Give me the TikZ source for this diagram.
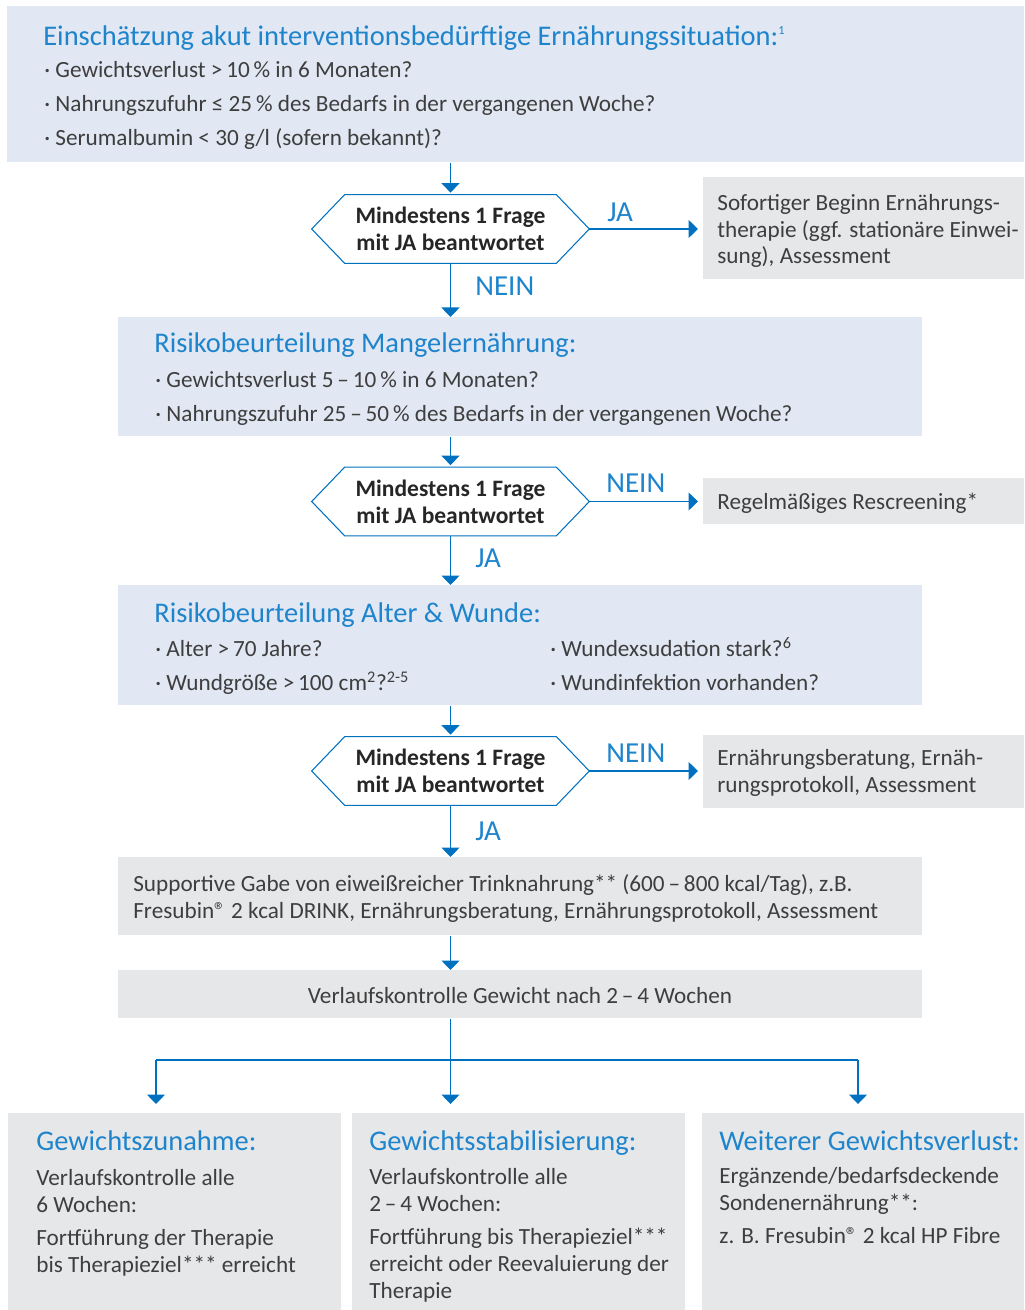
\documentclass[tikz,border=0pt]{standalone}
\usepackage{fontspec}
\setmainfont{Carlito}
\usetikzlibrary{arrows.meta}
\definecolor{titleblue}{RGB}{30,132,204}
\definecolor{lineblue}{RGB}{0,112,192}
\definecolor{boxblue}{RGB}{225,231,243}
\definecolor{boxgray}{RGB}{230,231,233}
\definecolor{textgray}{RGB}{62,62,62}
\newcommand{\hexframe}[1]{\draw [lineblue, line width=0.6pt] (#1.west) -- ([xshift=0.66cm]#1.north west) -- ([xshift=-0.66cm]#1.north east) -- (#1.east) -- ([xshift=-0.66cm]#1.south east) -- ([xshift=0.66cm]#1.south west) -- cycle;}

\begin{document}
\begin{tikzpicture}[x=0.02cm, y=-0.02cm,
    bluebox/.style={fill=boxblue, inner sep=0, anchor=north west},
    graybox/.style={fill=boxgray, inner sep=0, anchor=north west},
    head/.style={anchor=base west, inner sep=0, text=titleblue, font=\fontsize{16.2}{19}\selectfont},
    txt/.style={anchor=base west, inner sep=0, text=textgray, align=left, font=\fontsize{13.2}{15.3}\selectfont},
    ask/.style={minimum width=5.54cm, minimum height=1.36cm, inner sep=0, align=center, text=black!85, font=\bfseries\fontsize{13.4}{15.3}\selectfont},
    yesno/.style={anchor=base west, inner sep=0, text=titleblue, font=\fontsize{16.5}{18}\selectfont},
    arr/.style={lineblue, line width=0.85pt, -{Triangle[width=0.36cm, length=0.19cm]}}]
        \useasboundingbox (0,0) rectangle (1024,1310);
        \node [bluebox, minimum width=20.34cm, minimum height=3.12cm] (q1) at (7,6) {};
        \node [head] (h1) at (43,46) {Einschätzung akut interventionsbedürftige Ernährungssituation:\textsuperscript{\scriptsize 1}};
        \node [txt] (q1a) at (44,78) {· Gewichtsverlust >\,10\,\% in 6 Monaten?};
        \node [txt] (q1b) at (44,112) {· Nahrungszufuhr ≤ 25\,\% des Bedarfs in der vergangenen Woche?};
        \node [txt] (q1c) at (44,146) {· Serumalbumin < 30 g/l (sofern bekannt)?};

        \node [ask] (d1) at (450.5,229) {Mindestens 1 Frage\\mit JA beantwortet};
        \hexframe{d1}
        \node [graybox, minimum width=6.42cm, minimum height=2.04cm] (r1) at (703,177) {};
        \node [txt] (r1t) at (717,264) {Sofortiger Beginn Ernährungs-\\therapie (ggf. stationäre Einwei-\\sung), Assessment};

        \node [bluebox, minimum width=16.08cm, minimum height=2.38cm] (q2) at (118,317) {};
        \node [head] (h2) at (154,353) {Risikobeurteilung Mangelernährung:};
        \node [txt] (q2a) at (155,388) {· Gewichtsverlust 5\,–\,10\,\% in 6 Monaten?};
        \node [txt] (q2b) at (155,422) {· Nahrungszufuhr 25\,–\,50\,\% des Bedarfs in der vergangenen Woche?};

        \node [ask] (d2) at (450.5,501.5) {Mindestens 1 Frage\\mit JA beantwortet};
        \hexframe{d2}
        \node [graybox, minimum width=6.42cm, minimum height=0.92cm] (r2) at (703,478) {};
        \node [txt] (r2t) at (717,509) {Regelmäßiges Rescreening*};

        \node [bluebox, minimum width=16.08cm, minimum height=2.4cm] (q3) at (118,585) {};
        \node [head] (h3) at (154,622) {Risikobeurteilung Alter \& Wunde:};
        \node [txt] (q3a) at (155,656) {· Alter >\,70 Jahre?};
        \node [txt] (q3b) at (155,690) {· Wundgröße >\,100 cm\textsuperscript{2}?\textsuperscript{2-5}};
        \node [txt] (q3c) at (550,656) {· Wundexsudation stark?\textsuperscript{6}};
        \node [txt] (q3d) at (550,690) {· Wundinfektion vorhanden?};

        \node [ask] (d3) at (450.5,771) {Mindestens 1 Frage\\mit JA beantwortet};
        \hexframe{d3}
        \node [graybox, minimum width=6.42cm, minimum height=1.46cm] (r3) at (703,735) {};
        \node [txt] (r3t) at (717,792) {Ernährungsberatung, Ernäh-\\rungsprotokoll, Assessment};

        \node [graybox, minimum width=16.08cm, minimum height=1.56cm] (s1) at (118,857) {};
        \node [txt] (s1t) at (133,918) {Supportive Gabe von eiweißreicher Trinknahrung** (600\,–\,800 kcal/Tag), z.B.\\Fresubin® 2 kcal DRINK, Ernährungsberatung, Ernährungsprotokoll, Assessment};
        \node [graybox, minimum width=16.08cm, minimum height=0.96cm] (s2) at (118,970) {};
        \node [txt, anchor=base] (s2t) at (520,1003) {Verlaufskontrolle Gewicht nach 2\,–\,4 Wochen};

        \node [graybox, minimum width=6.66cm, minimum height=3.94cm] (o1) at (8,1113) {};
        \node [head] (o1h) at (36,1150) {Gewichtszunahme:};
        \node [txt] (o1t) at (36,1272) {Verlaufskontrolle alle\\6 Wochen:\\[3.4pt]Fortführung der Therapie\\bis Therapieziel*** erreicht};
        \node [graybox, minimum width=6.66cm, minimum height=3.94cm] (o2) at (352,1113) {};
        \node [head] (o2h) at (369,1150) {Gewichtsstabilisierung:};
        \node [txt] (o2t) at (369,1298) {Verlaufskontrolle alle\\2\,–\,4 Wochen:\\[3.4pt]Fortführung bis Therapieziel***\\erreicht oder Reevaluierung der\\Therapie};
        \node [graybox, minimum width=6.44cm, minimum height=3.94cm] (o3) at (702,1113) {};
        \node [head] (o3h) at (719,1150) {Weiterer Gewichtsverlust:};
        \node [txt] (o3t) at (719,1243) {Ergänzende/bedarfsdeckende\\Sondenernährung**:\\[3.4pt]z. B. Fresubin® 2 kcal HP Fibre};

        \draw [arr, shorten >=0.04cm] (d1.north |- q1.south) -- (d1.north);
        \draw [arr, shorten >=0.1cm] (d1.east) -- (d1.east -| r1.west);
        \draw [arr] (d1.south) -- (d1.south |- q2.north);
        \node [yesno] (ja1) at (607,222) {JA};
        \node [yesno] (nein1) at (475,296) {NEIN};

        \draw [arr, shorten >=0.04cm] (d2.north |- q2.south) -- (d2.north);
        \draw [arr, shorten >=0.1cm] (d2.east) -- (d2.east -| r2.west);
        \draw [arr] (d2.south) -- (d2.south |- q3.north);
        \node [yesno] (nein2) at (606,492) {NEIN};
        \node [yesno] (ja2) at (475,567) {JA};

        \draw [arr, shorten >=0.04cm] (d3.north |- q3.south) -- (d3.north);
        \draw [arr, shorten >=0.1cm] (d3.east) -- (d3.east -| r3.west);
        \draw [arr] (d3.south) -- (d3.south |- s1.north);
        \node [yesno] (nein3) at (606,762) {NEIN};
        \node [yesno] (ja3) at (475,840) {JA};

        \draw [arr] (d3.south |- s1.south) -- (d3.south |- s2.north);
        \coordinate (fork) at (450.5,1060);
        \coordinate (forkl) at (156,1060);
        \coordinate (forkr) at (858,1060);
        \draw [lineblue, line width=0.85pt] (d3.south |- s2.south) -- (fork);
        \draw [lineblue, line width=0.85pt] (forkl) -- (forkr);
        \draw [arr, shorten >=0.18cm] (forkl) -- (forkl |- o1.north);
        \draw [arr, shorten >=0.18cm] (fork) -- (fork |- o2.north);
        \draw [arr, shorten >=0.18cm] (forkr) -- (forkr |- o3.north);
    \end{tikzpicture}
\end{document}
